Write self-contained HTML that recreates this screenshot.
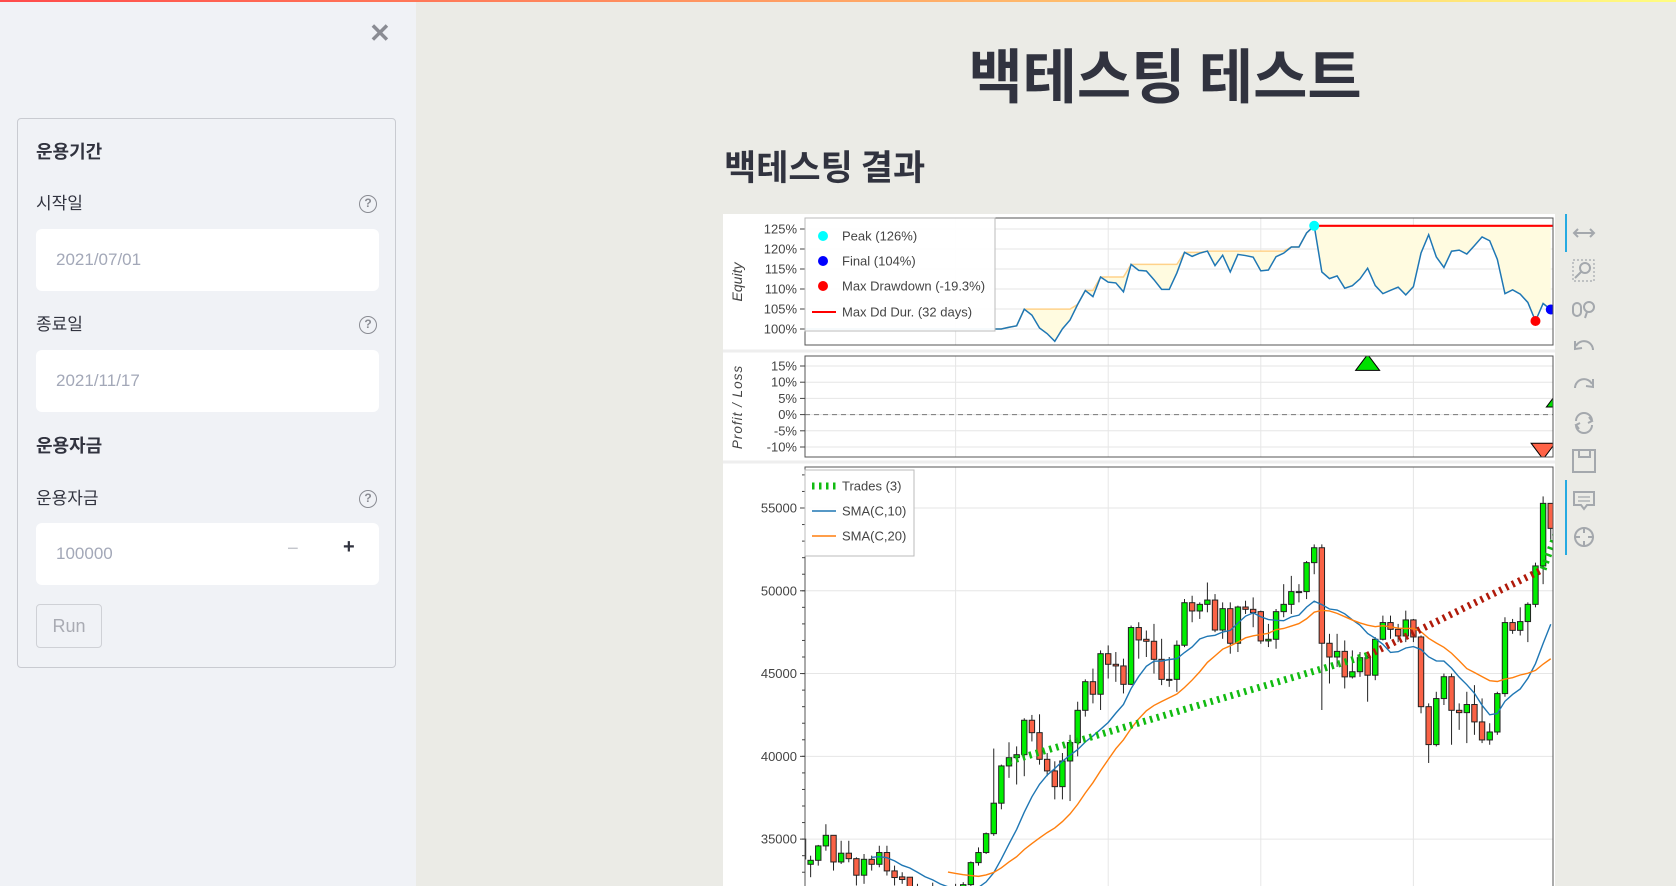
<!DOCTYPE html>
<html><head><meta charset="utf-8">
<style>
*{box-sizing:border-box;margin:0;padding:0}
body{width:1676px;height:886px;overflow:hidden;background:#ebebe6;font-family:"Liberation Sans","Noto Sans CJK KR",sans-serif;position:relative;color:#31333f}
.topbar{position:absolute;left:0;top:0;width:1676px;height:2px;background:linear-gradient(90deg,#ff4b4b,#fffd80)}
.side{position:absolute;left:0;top:2px;width:416px;height:884px;background:#f0f2f6}
.close{position:absolute;left:369px;top:16px;font-size:26px;color:#8a8c93;font-weight:bold}
.box{position:absolute;left:17px;top:118px;width:379px;height:550px;border:1px solid #c9cbd1;border-radius:4px}
.h{position:absolute;left:36px;font-size:18px;font-weight:bold;font-family:"Noto Sans CJK KR",sans-serif;color:#31333f}
.lab{position:absolute;left:36px;font-size:17px;font-family:"Noto Sans CJK KR",sans-serif;color:#31333f}
.help{position:absolute;left:359px;width:18px;height:18px;border:1.6px solid #8a8c93;border-radius:50%;font-size:12px;line-height:15px;text-align:center;color:#8a8c93;font-weight:bold}
.inp{position:absolute;left:36px;width:343px;height:62px;background:#fff;border-radius:6px;font-size:17px;color:#a3a8b8;padding-left:20px;line-height:62px}
.run{position:absolute;left:36px;top:604px;width:66px;height:44px;border:1px solid #cfd1d6;border-radius:4px;color:#a9abb3;font-size:18px;text-align:center;line-height:42px}
.title{position:absolute;left:870px;width:590px;top:34px;text-align:center;font-size:59px;font-weight:bold;font-family:"Noto Sans CJK KR",sans-serif;color:#31333f;line-height:78px}
.sub{position:absolute;left:724px;top:143px;font-size:35px;font-weight:bold;font-family:"Noto Sans CJK KR",sans-serif;color:#31333f;line-height:46px}
svg text{font-family:"Liberation Sans",sans-serif}
</style></head><body>
<div class="topbar"></div>
<div class="side">
  <div class="close">✕</div>
</div>
<div class="box"></div>
<div class="h" style="top:138px">운용기간</div>
<div class="lab" style="top:189px">시작일</div>
<div class="help" style="top:195px">?</div>
<div class="inp" style="top:229px">2021/07/01</div>
<div class="lab" style="top:310px">종료일</div>
<div class="help" style="top:316px">?</div>
<div class="inp" style="top:350px">2021/11/17</div>
<div class="h" style="top:432px">운용자금</div>
<div class="lab" style="top:484px">운용자금</div>
<div class="help" style="top:490px">?</div>
<div class="inp" style="top:523px">100000</div>
<div style="position:absolute;left:287px;top:538px;font-size:20px;color:#c4c6cc">−</div>
<div style="position:absolute;left:343px;top:536px;font-size:20px;color:#31333f;font-weight:bold">+</div>
<div class="run">Run</div>
<div class="title">백테스팅 테스트</div>
<div class="sub">백테스팅 결과</div>

<svg id="chart" width="1676" height="886" style="position:absolute;left:0;top:0" xmlns="http://www.w3.org/2000/svg">
<defs>
<clipPath id="cEq"><rect x="805" y="218" width="748" height="127"/></clipPath>
<clipPath id="cPl"><rect x="805" y="356" width="748" height="101"/></clipPath>
<clipPath id="cCd"><rect x="805" y="467" width="748" height="419"/></clipPath>
</defs>
<rect x="723" y="214" width="832" height="672" fill="#fff"/>
<line x1="723" y1="351" x2="1555" y2="351" stroke="#eee" stroke-width="3"/>
<line x1="723" y1="462" x2="1555" y2="462" stroke="#eee" stroke-width="3"/>
<g id="grid"></g>
<g id="eq" clip-path="url(#cEq)"></g>
<g id="pl" clip-path="url(#cPl)"></g>
<g id="cd" clip-path="url(#cCd)"></g>
<g id="axes"></g>
<g id="legends"></g>
<g id="toolbar"></g>
</svg>

<script>
const open=[35000,33480,33720,34590,35230,33620,34150,33820,32820,33780,33480,34190,33080,32720,32700,32000,31600,31100,30900,31300,31800,32100,32250,33580,34190,35330,37170,39420,39920,40100,42180,41430,39820,39120,38170,39720,40830,42780,44510,43750,46200,45560,45460,44350,47780,47070,46950,45860,44650,44650,46710,49280,48780,49180,49440,47630,48920,46830,49020,48880,48740,46970,47070,48740,49180,49950,49950,51700,52600,46830,46000,46340,44800,45110,45960,44900,47070,48080,47670,47270,48240,47210,43000,40710,43490,44810,42780,42640,43130,42080,40990,41470,43790,48080,47610,48140,49180,51500,55280];
const high=[35000,34000,34650,35900,35230,34900,34900,33900,34100,34000,34600,34600,33400,33000,32700,32300,32000,32370,31600,32000,32300,32400,33650,34500,35400,40470,39500,40850,40600,42300,42500,42540,40200,39700,40200,41300,43300,44650,45300,46400,46700,46300,45900,47900,48100,47600,48000,47100,46000,47000,49500,49700,49300,50500,49800,49300,49300,49100,49400,49600,48800,48000,48900,50400,50900,50400,51800,52800,52800,47400,47400,47000,46400,46300,46100,47200,48500,48500,48000,48800,48300,47300,43200,43900,45000,45000,43200,43900,44300,43500,42000,43900,48400,48300,49000,49300,51700,55700,55300];
const low=[33500,32700,33400,34300,33100,33500,33600,32200,32300,33100,33300,32800,32200,32300,31800,31200,30800,30500,30600,31000,31600,31900,32100,33400,34100,35200,36800,38700,38300,38800,40900,39500,38800,37400,37400,37300,40000,42400,43200,42800,44700,44500,43800,44300,45900,46000,45000,44300,44200,43900,46600,48100,48300,48700,47500,47100,46200,46300,48600,47800,46800,46600,46500,48400,48600,49300,49500,51000,42800,44400,45400,44100,44700,44800,43300,44600,47000,47100,46900,46900,46900,42600,39600,40600,43100,40700,41600,40800,41300,40800,40700,41300,43600,47400,47300,46900,49000,50400,53100];
const close=[33800,33720,34590,35230,33620,34150,33820,32820,33780,33480,34190,33080,32680,32560,32000,31600,31100,30900,31300,31800,32100,32250,33580,34190,35330,37170,39420,39920,40100,42180,41430,39820,39120,38170,39720,40830,42780,44510,43750,46200,45560,45460,44350,47780,47030,46950,45860,44650,44650,46710,49280,48780,49180,49440,47630,48920,46830,49020,48880,48680,46970,47070,48740,49180,49950,49950,51700,52600,46830,46000,46340,44800,45110,45960,44900,47070,48080,47670,47270,48240,47210,43000,40710,43490,44810,42780,42640,43130,42080,40990,41470,43790,48080,47610,48140,49180,51500,55280,53770];
const tradeEntryBar=[27,74,97];
const tradeEntryPrice=[39700,46100,51300];
const tradeExitBar=[74,97,99];
const tradeExitPrice=[46100,51300,53800];
const tradeSize=[2,-2,1];
const tradePnl=[16.1,-11.3,4.8];
const priceTicks=[35000,40000,45000,50000,55000];
const equityTicks=[100,105,110,115,120,125];
const pnlTicks=[-10,-5,0,5,10,15];
const xGridBars=[20,40,60,80];
const initialCash=100000;

const NS="http://www.w3.org/2000/svg";
function mk(tag,attrs,parent){const e=document.createElementNS(NS,tag);for(const k in attrs)e.setAttribute(k,attrs[k]);parent.appendChild(e);return e;}
const X0=803,BW=7.63;
const x=i=>X0+i*BW;
const yP=v=>508+(55000-v)*0.016556;
const yE=v=>329-(v-100)*4;
const yL=v=>414.6-v*3.24;
const L=805,R=1553;
const G=document.getElementById('grid'),EQ=document.getElementById('eq'),PL=document.getElementById('pl'),CD=document.getElementById('cd'),AX=document.getElementById('axes'),LG=document.getElementById('legends'),TB=document.getElementById('toolbar');

xGridBars.forEach(b=>{[[218,345],[356,457],[467,886]].forEach(p=>{
  const g=mk('line',{x1:x(b),x2:x(b),y1:p[0],y2:p[1],stroke:'#e6e6e6','stroke-width':1},G);
  
  
});});
equityTicks.forEach(v=>{const g=mk('line',{x1:L,x2:R,y1:yE(v),y2:yE(v),stroke:'#e6e6e6'},G);
  
  });
pnlTicks.forEach(v=>{const g=mk('line',{x1:L,x2:R,y1:yL(v),y2:yL(v),stroke:'#e6e6e6'},G);
  
  });
priceTicks.forEach(v=>{const g=mk('line',{x1:L,x2:R,y1:yP(v),y2:yP(v),stroke:'#e6e6e6'},G);
  
  });

const N=close.length;const equity=[];
for(let i=0;i<N;i++){let e=initialCash;for(let t=0;t<tradeSize.length;t++){if(i<tradeEntryBar[t])continue;const px=i>=tradeExitBar[t]?tradeExitPrice[t]:close[i];e+=tradeSize[t]*(px-tradeEntryPrice[t]);}equity.push(e/initialCash*100);}
const cmax=[];let m=-1e9;equity.forEach(v=>{m=Math.max(m,v);cmax.push(m);});
let fillPts=cmax.map((v,i)=>x(i)+','+yE(v)).join(' ')+' '+equity.map((v,i)=>x(i)+','+yE(v)).reverse().join(' ');
const fp=mk('polygon',{points:fillPts,fill:'#fffbe0',stroke:'none'},EQ);


const cm=mk('polyline',{points:cmax.map((v,i)=>x(i)+','+yE(v)).join(' '),fill:'none',stroke:'#ffd28a','stroke-width':1.5},EQ);


let pk=0;equity.forEach((v,i)=>{if(v>equity[pk])pk=i;});
const ddl=mk('line',{x1:x(pk),x2:R,y1:yE(equity[pk]),y2:yE(equity[pk]),stroke:'#ff0000','stroke-width':2.2},EQ);


const el=mk('polyline',{points:equity.map((v,i)=>x(i)+','+yE(v)).join(' '),fill:'none',stroke:'#1f77b4','stroke-width':1.5},EQ);


let dd=0;equity.forEach((v,i)=>{if(v/cmax[i]<equity[dd]/cmax[dd])dd=i;});
const pd=mk('circle',{cx:x(pk),cy:yE(equity[pk]),r:5,fill:'cyan'},EQ);


const dm=mk('circle',{cx:x(dd),cy:yE(equity[dd]),r:5,fill:'red'},EQ);


const fm=mk('circle',{cx:x(N-1),cy:yE(equity[N-1]),r:5,fill:'blue'},EQ);



const zl=mk('line',{x1:L,x2:R,y1:yL(0),y2:yL(0),stroke:'#777','stroke-dasharray':'5 4'},PL);


tradePnl.forEach((p,t)=>{const cx=x(tradeExitBar[t]),cy=yL(p),w=12,h=8;
  const pts=p>=0?`${cx-w},${cy+h} ${cx+w},${cy+h} ${cx},${cy-h}`:`${cx-w},${cy-h} ${cx+w},${cy-h} ${cx},${cy+h}`;
  const tri=mk('polygon',{points:pts,fill:p>=0?'#00e000':'#ff6347',stroke:'#000','stroke-width':1},PL);
  
  });

for(let i=0;i<N;i++){const up=close[i]>=open[i];
  const wk=mk('line',{x1:x(i),x2:x(i),y1:yP(high[i]),y2:yP(low[i]),stroke:'#222','stroke-width':1},CD);
  
  
  const top=yP(Math.max(open[i],close[i])),bot=yP(Math.min(open[i],close[i]));
  const bd=mk('rect',{x:x(i)-2.7,y:top,width:5.4,height:Math.max(bot-top,1),fill:up?'#00ee00':'#fa6246',stroke:'#222','stroke-width':1},CD);
  
  }
function sma(n){return close.map((v,i)=>i<n-1?null:close.slice(i-n+1,i+1).reduce((a,b)=>a+b,0)/n);}
[[10,'#1f77b4','sma-10-line'],[20,'#ff7f0e','sma-20-line']].forEach(s=>{const a=sma(s[0]);const pts=a.map((v,i)=>v==null?null:x(i)+','+yP(v)).filter(p=>p).join(' ');
  const pl=mk('polyline',{points:pts,fill:'none',stroke:s[1],'stroke-width':1.4},CD);
  
  });
tradePnl.forEach((p,t)=>{const tl=mk('line',{x1:x(tradeEntryBar[t]),y1:yP(tradeEntryPrice[t]),x2:x(tradeExitBar[t]),y2:yP(tradeExitPrice[t]),stroke:p>=0?'#11bb11':'#b01a0a','stroke-width':7,'stroke-dasharray':'2.5 4.5'},CD);
  
  });

[[218,345],[356,457],[467,890]].forEach(p=>{const f=mk('rect',{x:L,y:p[0],width:R-L,height:p[1]-p[0],fill:'none',stroke:'#555','stroke-width':1},AX);
  
  });
function ytick(y,label,name){mk('line',{x1:L-5,x2:L,y1:y,y2:y,stroke:'#444'},AX);
  const t=mk('text',{x:L-8,y:y+4.5,'text-anchor':'end','font-size':13,fill:'#444'},AX);t.textContent=label;
  
  }
equityTicks.forEach(v=>ytick(yE(v),v+'%','equity-tick-label'));
pnlTicks.forEach(v=>ytick(yL(v),v+'%','pnl-tick-label'));
priceTicks.forEach(v=>ytick(yP(v),String(v),'price-tick-label'));
for(let v=33000;v<=57000;v+=1000){const y=yP(v);if(y>467&&y<886)mk('line',{x1:L-3,x2:L,y1:y,y2:y,stroke:'#444'},AX);}
const et=mk('text',{transform:'translate(742,282) rotate(-90)','text-anchor':'middle','font-size':14,'font-style':'italic',fill:'#444'},AX);et.textContent='Equity';


const pt=mk('text',{transform:'translate(742,407) rotate(-90)','text-anchor':'middle','font-size':13.5,'font-style':'italic',fill:'#444','letter-spacing':'1'},AX);pt.textContent='Profit / Loss';



function legendBox(x0,y0,w,h,name){const r=mk('rect',{x:x0,y:y0,width:w,height:h,fill:'#fff','fill-opacity':0.95,stroke:'#bbb'},LG);
  
  }
function legText(x0,y,s,name){const t=mk('text',{x:x0,y:y+4.5,'font-size':13,fill:'#444'},LG);t.textContent=s;
  
  }
legendBox(805,218,190,113,'equity-legend');
mk('circle',{cx:823,cy:236,r:5,fill:'cyan'},LG);legText(842,236,'Peak (126%)','legend-peak');
mk('circle',{cx:823,cy:261,r:5,fill:'blue'},LG);legText(842,261,'Final (104%)','legend-final');
mk('circle',{cx:823,cy:286,r:5,fill:'red'},LG);legText(842,286,'Max Drawdown (-19.3%)','legend-max-drawdown');
mk('line',{x1:812,x2:836,y1:312,y2:312,stroke:'red','stroke-width':2},LG);legText(842,312,'Max Dd Dur. (32 days)','legend-max-dd-duration');
legendBox(805,470,109,86,'price-legend');
mk('line',{x1:812,x2:836,y1:486,y2:486,stroke:'#11bb11','stroke-width':7,'stroke-dasharray':'2.5 4.5'},LG);legText(842,486,'Trades (3)','legend-trades');
mk('line',{x1:812,x2:836,y1:511,y2:511,stroke:'#1f77b4','stroke-width':1.5},LG);legText(842,511,'SMA(C,10)','legend-sma10');
mk('line',{x1:812,x2:836,y1:536,y2:536,stroke:'#ff7f0e','stroke-width':1.5},LG);legText(842,536,'SMA(C,20)','legend-sma20');

const tc='#a4a8ad';
mk('line',{x1:1566,x2:1566,y1:214,y2:252,stroke:'#26aae1','stroke-width':2},TB);
mk('line',{x1:1566,x2:1566,y1:480,y2:555,stroke:'#26aae1','stroke-width':2},TB);
function tool(y,name,draw){const g=mk('g',{transform:`translate(1584,${y})`,fill:'none',stroke:tc,'stroke-width':2},TB);
  
  
  draw(g);}
tool(233,'pan-tool',g=>{mk('line',{x1:-10,x2:10,y1:0,y2:0},g);mk('path',{d:'M-6,-4 L-10,0 L-6,4 M6,-4 L10,0 L6,4'},g);});
tool(270,'box-zoom-tool',g=>{mk('rect',{x:-11,y:-10,width:21,height:21,'stroke-dasharray':'2 2','stroke-width':1.2},g);mk('circle',{cx:1,cy:-2,r:5},g);mk('line',{x1:-3,y1:2,x2:-9,y2:8},g);});
tool(309,'wheel-zoom-tool',g=>{mk('rect',{x:-11,y:-6,width:8,height:13,rx:4},g);mk('circle',{cx:5,cy:-2,r:5},g);mk('line',{x1:3,y1:3,x2:1,y2:9},g);});
tool(347,'undo-tool',g=>{mk('path',{d:'M9,3 A9,9 0 0 0 -8,-1 M-9,-6 L-9,2 L-2,1'},g);});
tool(385,'redo-tool',g=>{mk('path',{d:'M-9,3 A9,9 0 0 1 8,-1 M9,-6 L9,2 L2,1'},g);});
tool(423,'reset-tool',g=>{mk('path',{d:'M-8,-2 A8,8 0 0 1 8,-2 M8,2 A8,8 0 0 1 -8,2 M5,-6 L8,-2 L4,0 M-5,6 L-8,2 L-4,0'},g);});
tool(461,'save-tool',g=>{mk('rect',{x:-11,y:-11,width:22,height:22},g);mk('rect',{x:-5,y:-11,width:11,height:7},g);});
tool(500,'hover-tool',g=>{mk('path',{d:'M-10,-8 H10 V5 H3 L0,9 L-3,5 H-10 Z'},g);mk('path',{d:'M-6,-3 H6 M-6,1 H6','stroke-width':1.2},g);});
tool(537,'crosshair-tool',g=>{mk('circle',{cx:0,cy:0,r:9},g);mk('path',{d:'M-10,0 H-4 M4,0 H10 M0,-10 V-4 M0,4 V10'},g);});
</script>
</body></html>
